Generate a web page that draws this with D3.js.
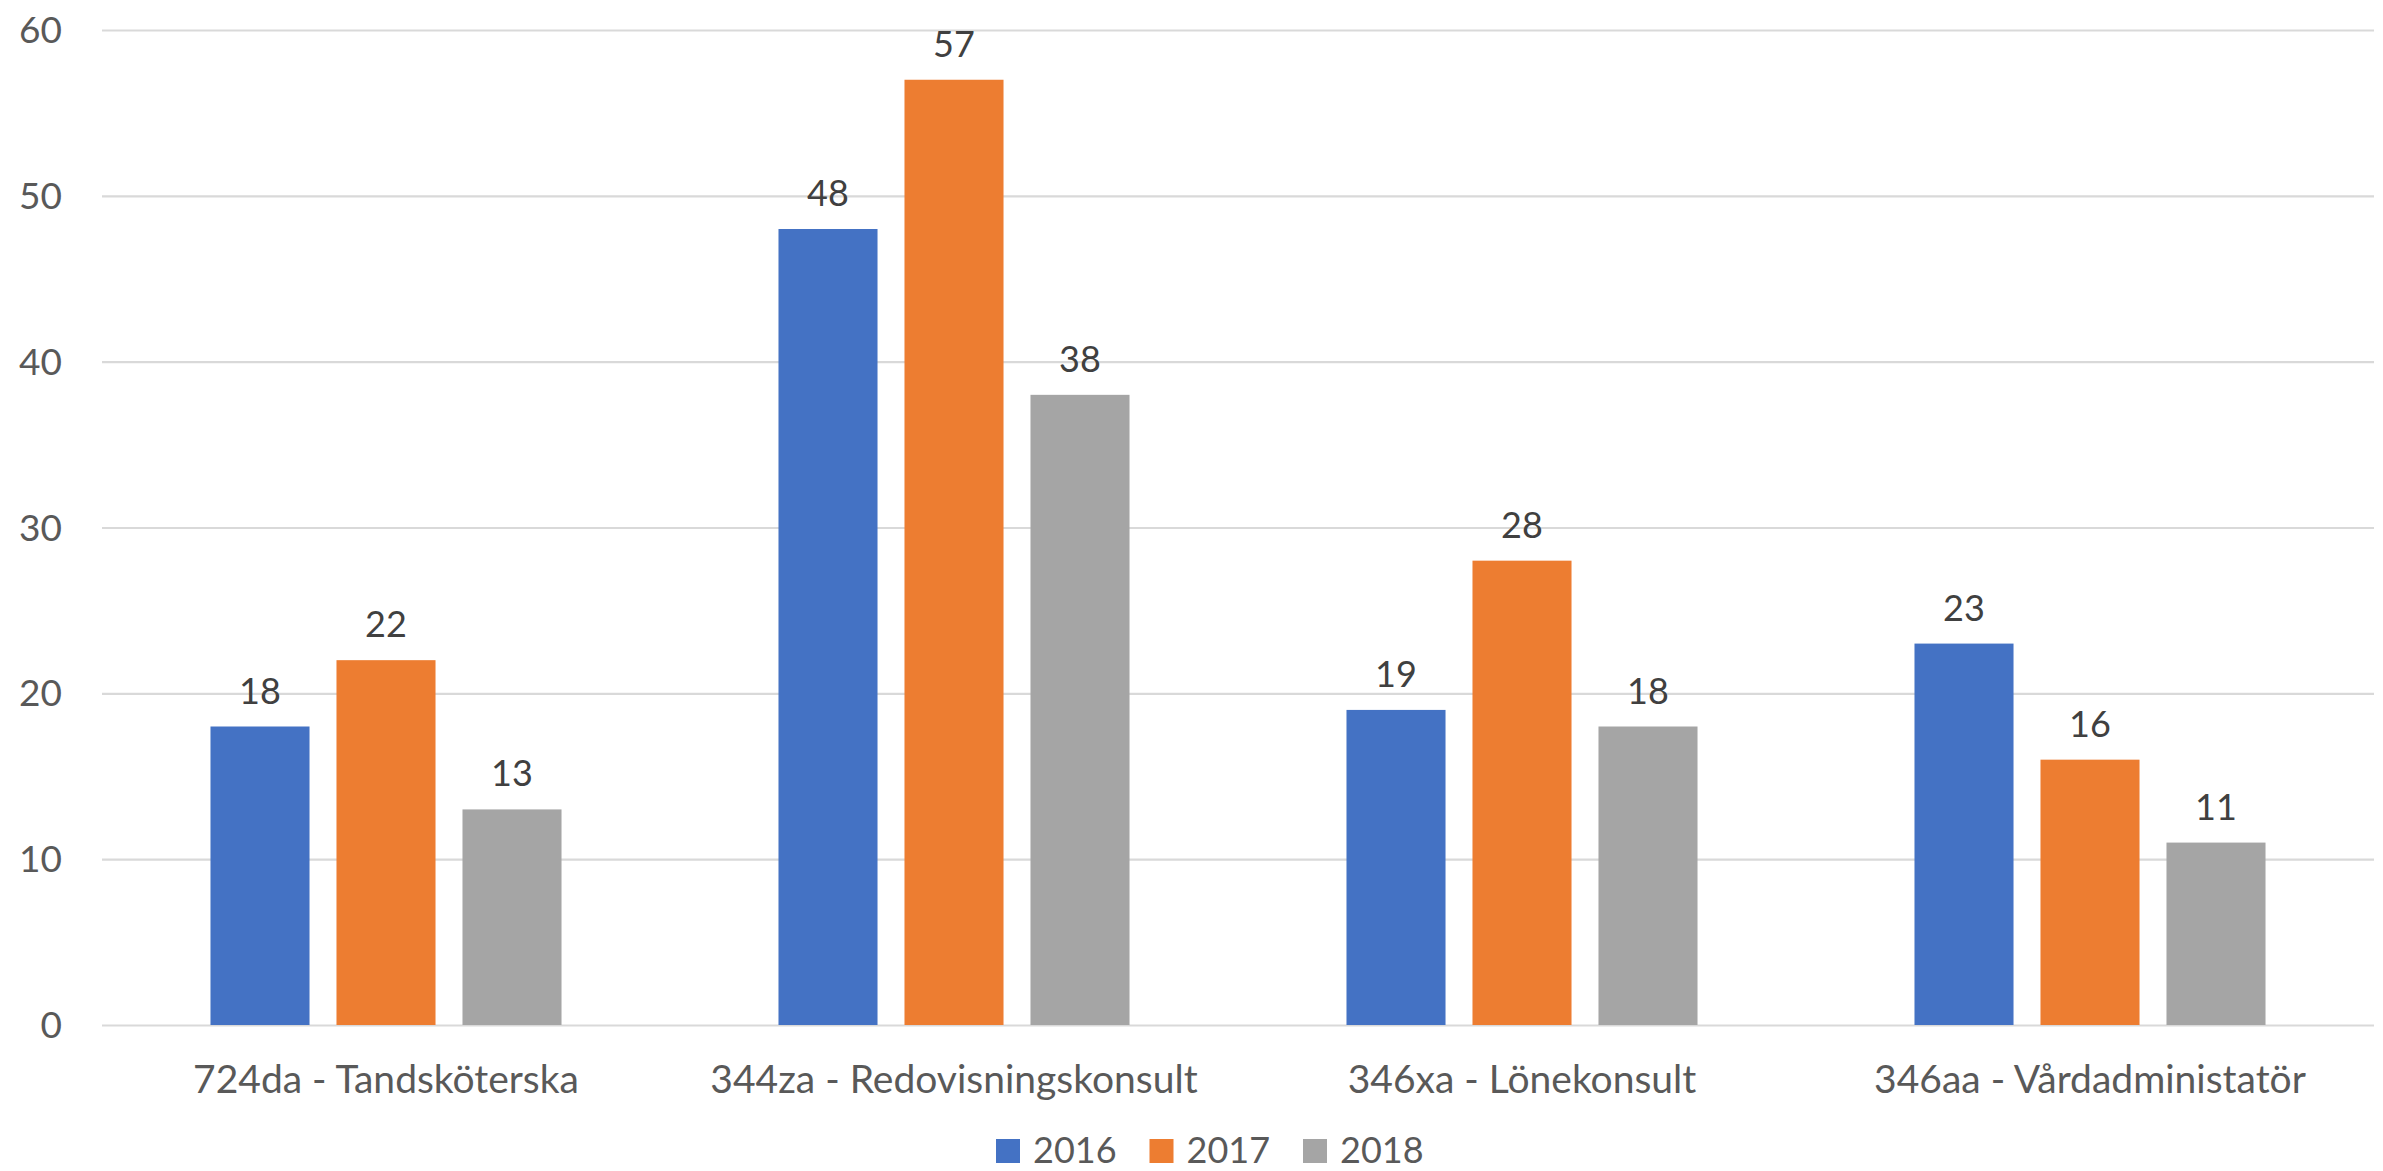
<!DOCTYPE html>
<html>
<head>
<meta charset="utf-8">
<script src="https://cdn.jsdelivr.net/npm/d3@7"></script>
<style>
  html, body { margin: 0; padding: 0; background: #ffffff; }
  svg { display: block; }
  text { font-family: Lato, "Open Sans", sans-serif; }
</style>
</head>
<body>
<svg id="chart" width="2383" height="1171"></svg>
<script>
const categories = ["724da - Tandsköterska", "344za - Redovisningskonsult", "346xa - Lönekonsult", "346aa - Vårdadministatör"];
const seriesNames = ["2016", "2017", "2018"];
const values2016 = [18, 48, 19, 23];
const values2017 = [22, 57, 28, 16];
const values2018 = [13, 38, 18, 11];
const yTicks = [0, 10, 20, 30, 40, 50, 60];
const colors = ["#4472C4", "#ED7D31", "#A5A5A5"];

const seriesValues = [values2016, values2017, values2018];
const data = categories.map((c, i) => ({
  category: c,
  values: seriesNames.map((s, j) => ({ series: s, value: seriesValues[j][i] }))
}));

const svg = d3.select("#chart");
const plotLeft = 102, plotRight = 2374, plotTop = 30, plotBottom = 1025;

const x0 = d3.scaleBand().domain(categories).range([plotLeft, plotRight]).padding(0);
const x1 = d3.scaleBand().domain(seriesNames).range([0, x0.bandwidth()])
  .paddingInner(0.214).paddingOuter(0.861);
const y = d3.scaleLinear().domain([0, 60]).range([plotBottom, plotTop]);
const color = d3.scaleOrdinal().domain(seriesNames).range(colors);

// gridlines
const grid = d3.axisLeft(y).tickValues(yTicks).tickSize(-(plotRight - plotLeft)).tickFormat("");
svg.append("g").attr("transform", `translate(${plotLeft},0)`).call(grid)
  .call(g => g.select(".domain").remove())
  .call(g => g.selectAll("line").attr("stroke", "#d9d9d9").attr("stroke-width", 2.2));

// y axis labels
const yAxis = d3.axisLeft(y).tickValues(yTicks).tickSize(0).tickPadding(0);
svg.append("g").attr("transform", `translate(62,0)`).call(yAxis)
  .call(g => g.select(".domain").remove())
  .call(g => g.selectAll("text")
    .attr("fill", "#595959")
    .style("font-size", "37px")
    .style("font-family", "Lato, 'Open Sans', sans-serif")
    .attr("dy", "0.34em"));

// bars
const groups = svg.append("g").selectAll("g").data(data).join("g")
  .attr("transform", d => `translate(${x0(d.category)},0)`);

groups.selectAll("rect").data(d => d.values).join("rect")
  .attr("x", d => x1(d.series))
  .attr("width", x1.bandwidth())
  .attr("y", d => y(d.value))
  .attr("height", d => y(0) - y(d.value))
  .attr("fill", d => color(d.series));

// data labels
groups.selectAll("text.val").data(d => d.values).join("text")
  .attr("class", "val")
  .attr("x", d => x1(d.series) + x1.bandwidth() / 2)
  .attr("y", d => y(d.value) - 23)
  .attr("text-anchor", "middle")
  .attr("fill", "#404040")
  .style("font-size", "36px")
  .text(d => d.value);

// x axis labels
const xAxis = d3.axisBottom(x0).tickSize(0).tickPadding(0);
svg.append("g").attr("transform", `translate(0,1093)`).call(xAxis)
  .call(g => g.select(".domain").remove())
  .call(g => g.selectAll("text")
    .attr("fill", "#595959")
    .attr("dy", "0")
    .style("font-size", "39px")
    .style("font-family", "Lato, 'Open Sans', sans-serif"));

// legend
const legend = svg.append("g").attr("transform", "translate(996,1139)");
const items = legend.selectAll("g").data(seriesNames).join("g")
  .attr("transform", (d, i) => `translate(${i * 153.5},0)`);
items.append("rect").attr("width", 24).attr("height", 24).attr("fill", d => color(d));
items.append("text").attr("x", 37).attr("y", 24)
  .attr("fill", "#595959").style("font-size", "36px").text(d => d);
</script>
</body>
</html>
